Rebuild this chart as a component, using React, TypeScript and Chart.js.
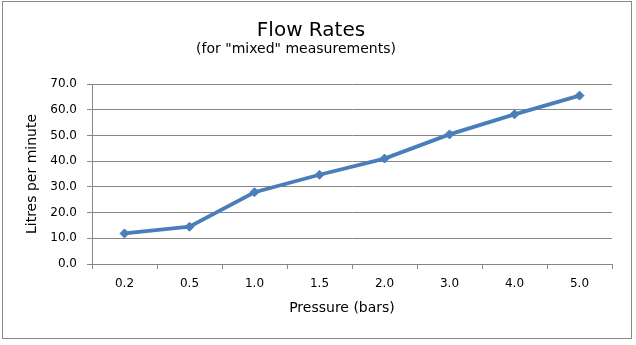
import React, { useEffect, useRef } from "react";
import { Chart, registerables } from "chart.js";

Chart.register(...registerables);

const pressureLabels: string[] = ["0.2", "0.5", "1.0", "1.5", "2.0", "3.0", "4.0", "5.0"];
const flowRates: number[] = [11.9, 14.5, 27.9, 34.7, 41.0, 50.4, 58.2, 65.5];
const yMin = 0;
const yMax = 70;
const yStep = 10;
const titleText = "Flow Rates";
const subtitleText = '(for "mixed" measurements)';
const xTitleText = "Pressure (bars)";
const yTitleText = "Litres per minute";

const FONT = "'DejaVu Sans', sans-serif";
const GRID = "#868686";

const framePlugin = {
  id: "frame",
  beforeDraw(chart: any) {
    const { ctx, width, height } = chart;
    ctx.save();
    ctx.fillStyle = "#ffffff";
    ctx.fillRect(0, 0, width, height);
    ctx.strokeStyle = "#8a8a8a";
    ctx.lineWidth = 1;
    ctx.strokeRect(2.5, 1.5, 629, 337);
    ctx.restore();
  },
  afterDraw(chart: any) {
    const { ctx, chartArea } = chart;
    ctx.save();
    ctx.fillStyle = "#000000";
    ctx.textAlign = "center";
    ctx.textBaseline = "middle";
    ctx.font = `14px ${FONT}`;
    ctx.fillText(subtitleText, 296, 49.5);
    const xs = chart.scales.x;
    ctx.fillText(xTitleText, (chartArea.left + chartArea.right) / 2 - 10, xs.bottom - 26.5);
    ctx.restore();
  },
};

export default function App() {
  const ref = useRef<HTMLCanvasElement | null>(null);
  useEffect(() => {
    if (!ref.current) return;
    const chart = new Chart(ref.current, {
      type: "line",
      data: {
        labels: pressureLabels,
        datasets: [
          {
            label: "Flow rate",
            data: flowRates,
            borderColor: "#4A7EBB",
            backgroundColor: "#4A7EBB",
            borderWidth: 3.8,
            pointStyle: "rectRot",
            pointRadius: 4.5,
            pointBorderWidth: 1,
            pointBackgroundColor: "#4A7EBB",
            pointBorderColor: "#4A7EBB",
            tension: 0,
          },
        ],
      },
      options: {
        responsive: false,
        animation: false,
        devicePixelRatio: 1,
        layout: { padding: { left: 10, right: 24, top: 0, bottom: 10 } },
        plugins: {
          legend: { display: false },
          tooltip: { enabled: false },
          title: {
            display: true,
            text: titleText,
            color: "#000000",
            font: { family: FONT, size: 20, weight: "normal", lineHeight: 1.1 },
            padding: { top: 20, bottom: 42 },
          },
          subtitle: { display: false },
        },
        scales: {
          x: {
            offset: true,
            afterFit: (s: any) => {
              s.height = 71;
            },
            grid: {
              offset: true,
              drawOnChartArea: false,
              drawTicks: true,
              tickLength: 5,
              color: GRID,
            },
            border: { display: true, color: GRID, width: 1 },
            ticks: {
              color: "#000000",
              padding: 8,
              font: { family: FONT, size: 12 },
              maxRotation: 0,
            },
            title: { display: false },
          },
          y: {
            min: yMin,
            max: yMax,
            afterFit: (s: any) => {
              s.width = 82;
            },
            grid: {
              color: GRID,
              drawTicks: true,
              tickLength: 5,
            },
            border: { display: true, color: GRID, width: 1 },
            ticks: {
              stepSize: yStep,
              color: "#000000",
              padding: 10,
              font: { family: FONT, size: 12 },
              callback: (v: any) => Number(v).toFixed(1),
            },
            title: {
              display: true,
              text: yTitleText,
              color: "#000000",
              font: { family: FONT, size: 14 },
              padding: { top: 14, bottom: 0 },
            },
          },
        },
      },
      plugins: [framePlugin],
    });
    return () => chart.destroy();
  }, []);
  return (
    <div style={{ position: "absolute", left: 0, top: 0, width: 636, height: 345 }}>
      <canvas ref={ref} width={636} height={345} style={{ display: "block" }} />
    </div>
  );
}
